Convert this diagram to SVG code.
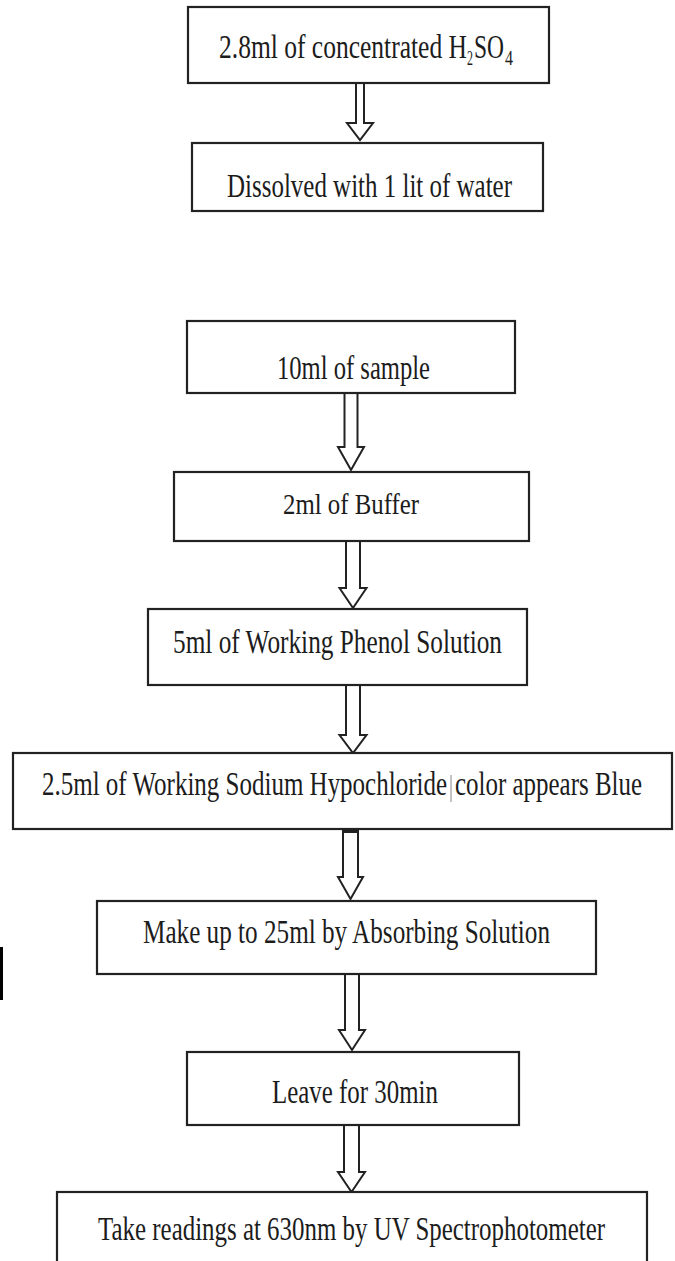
<svg xmlns="http://www.w3.org/2000/svg" width="675" height="1261" viewBox="0 0 675 1261">
<style>
.box{fill:#fff;stroke:#222;stroke-width:2.2}
.t{font-family:"Liberation Serif","Times New Roman",serif;font-size:34px;fill:#1c1c1c}
.s{font-family:"Liberation Serif","Times New Roman",serif;font-size:20px;fill:#1c1c1c}
.arr{fill:#fff;stroke:#222;stroke-width:2}
</style>
<rect width="675" height="1261" fill="#fff"/>
<g id="connectors">
<path class="arr" d="M356,80 L356,123 L347,123 L360,140 L373,123 L364,123 L364,80"/>
<path class="arr" d="M344.5,393 L344.5,447 L338,447 L351,470 L364,447 L357.5,447 L357.5,393"/>
<path class="arr" d="M346,541 L346,588 L339.5,588 L353,608 L366.5,588 L360,588 L360,541"/>
<path class="arr" d="M346,685 L346,735 L339.5,735 L353,753 L366.5,735 L360,735 L360,685"/>
<path class="arr" d="M343,829 L343,877 L338,877 L350.5,899 L363,877 L358,877 L358,829"/>
<rect x="343" y="829" width="15" height="4" fill="#222"/>
<path class="arr" d="M345,974 L345,1030 L339,1030 L352,1050 L365,1030 L359,1030 L359,974"/>
<path class="arr" d="M344,1125 L344,1172 L338,1172 L351.5,1192 L365,1172 L359,1172 L359,1125"/>
</g>
<g id="n1">
<rect class="box" x="188" y="7" width="361" height="76"/>
<text class="t" x="219" y="58" textLength="248" lengthAdjust="spacingAndGlyphs">2.8ml of concentrated H</text>
<text class="s" x="467" y="65" textLength="6" lengthAdjust="spacingAndGlyphs">2</text>
<text class="t" x="474" y="58" textLength="30" lengthAdjust="spacingAndGlyphs">SO</text>
<text class="s" x="505" y="65" textLength="8" lengthAdjust="spacingAndGlyphs">4</text>
</g>
<g id="n2">
<rect class="box" x="192" y="143" width="351" height="68"/>
<text class="t" x="227" y="197" textLength="285" lengthAdjust="spacingAndGlyphs">Dissolved with 1 lit of water</text>
</g>
<g id="n3">
<rect class="box" x="187" y="321" width="328" height="72"/>
<text class="t" x="277" y="379" textLength="153" lengthAdjust="spacingAndGlyphs">10ml of sample</text>
</g>
<g id="n4">
<rect class="box" x="174" y="472" width="355" height="69"/>
<text class="t" x="283" y="514" textLength="136" lengthAdjust="spacingAndGlyphs" style="font-size:30px">2ml of Buffer</text>
</g>
<g id="n5">
<rect class="box" x="148" y="609" width="379" height="76"/>
<text class="t" x="173" y="653" textLength="329" lengthAdjust="spacingAndGlyphs">5ml of Working Phenol Solution</text>
</g>
<g id="n6">
<rect class="box" x="13" y="753" width="659" height="76"/>
<text class="t" x="42" y="795" textLength="405" lengthAdjust="spacingAndGlyphs">2.5ml of Working Sodium Hypochloride</text>
<line x1="451" y1="775" x2="451" y2="802" stroke="#888" stroke-width="1"/>
<text class="t" x="455" y="795" textLength="187" lengthAdjust="spacingAndGlyphs">color appears Blue</text>
</g>
<g id="n7">
<rect class="box" x="97" y="901" width="499" height="73"/>
<text class="t" x="143" y="943" textLength="407" lengthAdjust="spacingAndGlyphs">Make up to 25ml by Absorbing Solution</text>
</g>
<g id="n8">
<rect class="box" x="187" y="1052" width="332" height="73"/>
<text class="t" x="272" y="1103" textLength="166" lengthAdjust="spacingAndGlyphs">Leave for 30min</text>
</g>
<g id="n9">
<rect class="box" x="57" y="1192" width="590" height="90"/>
<text class="t" x="98" y="1240" textLength="507" lengthAdjust="spacingAndGlyphs">Take readings at 630nm by UV Spectrophotometer</text>
</g>
<rect x="0" y="947" width="3" height="53" fill="#000"/>
</svg>
